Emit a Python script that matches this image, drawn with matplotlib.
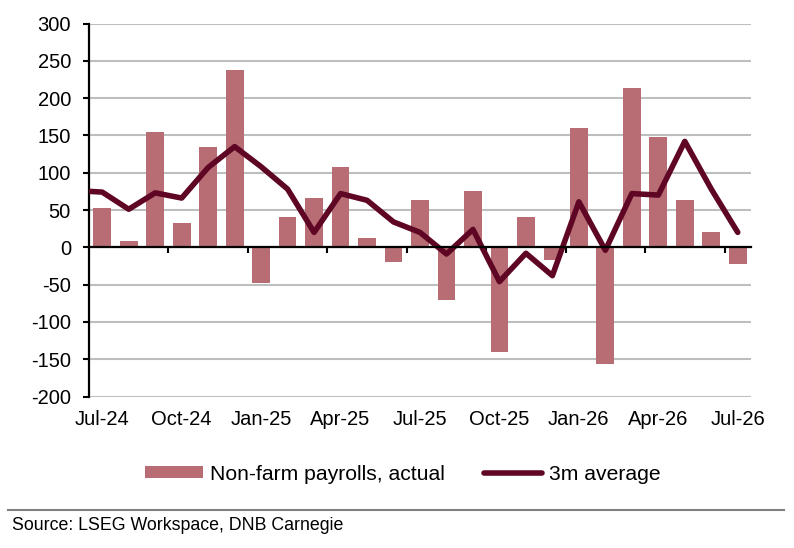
import numpy as np
import matplotlib
matplotlib.use('Agg')
import matplotlib.pyplot as plt
from matplotlib.lines import Line2D

plt.rcParams['font.family'] = ['Liberation Sans', 'DejaVu Sans']
plt.rcParams['axes.unicode_minus'] = False

# monthly data, Jul-24 .. Jul-26
payrolls = [53, 9, 155, 33, 134, 237, -48, 41, 66, 107, 13, -20, 63,
            -70, 76, -140, 40, -17, 160, -157, 214, 148, 63, 20, -23]
# 3m average, starts one month earlier (Jun-24) so the line runs to the left edge
avg3m = [76, 74, 51, 73, 66, 107, 135, 108, 78, 20, 72, 63, 34, 20,
         -9, 24, -46, -8, -38, 61, -4, 72, 70, 142, 78, 20]
tick_labels = ['Jul-24', 'Oct-24', 'Jan-25', 'Apr-25', 'Jul-25',
               'Oct-25', 'Jan-26', 'Apr-26', 'Jul-26']
yticks = [-200, -150, -100, -50, 0, 50, 100, 150, 200, 250, 300]

bar_col = '#B86D75'
line_col = '#5E0624'

x = np.arange(len(payrolls))
x_line = np.arange(len(avg3m)) - 1

fig = plt.figure(figsize=(7.94, 5.48), dpi=100)
ax = fig.add_axes([89/794, 1-396.5/548, (751-89)/794, (396.5-23.5)/548])

bars = ax.bar(x, payrolls, width=0.67, color=bar_col, zorder=2,
              label='Non-farm payrolls, actual')
line, = ax.plot(x_line, avg3m, color=line_col, lw=4, solid_joinstyle='round',
                solid_capstyle='round', zorder=3, label='3m average')

ax.set_xlim(-0.5, len(payrolls)-0.5)
ax.set_ylim(-200, 300)
ax.set_yticks(yticks)
ax.yaxis.grid(True, color='#BEBEBE', lw=1.5, zorder=0)
ax.set_axisbelow(True)

for s in ['top', 'right']:
    ax.spines[s].set_visible(False)
ax.spines['left'].set_linewidth(1.6)
ax.spines['bottom'].set_position(('data', 0))
ax.spines['bottom'].set_linewidth(1.6)
ax.spines['bottom'].set_zorder(4)

# boundary ticks every 3 months on the zero line
ax.set_xticks(np.arange(2.5, len(payrolls)-1, 3))
ax.tick_params(axis='x', direction='out', length=4, width=1.5,
               labelbottom=False)
ax.tick_params(axis='y', direction='out', length=4.5, width=1.5,
               pad=8.5, labelsize=14.5)

secax = ax.secondary_xaxis('bottom')
secax.set_xticks(x[::3], tick_labels)
secax.tick_params(length=0, pad=10, labelsize=14.5)
secax.spines['bottom'].set_visible(False)

fig.legend(handles=[bars, line], loc='center left',
           bbox_to_anchor=(145/794, 1-474/548),
           ncol=2, frameon=False, fontsize=15.2, borderpad=0,
           borderaxespad=0, handlelength=2.75, handleheight=0.5,
           handletextpad=0.32, columnspacing=1.85)

fig.add_artist(Line2D([8/794, 784/794], [1-510/548, 1-510/548],
                      color='#808080', lw=1.5))
fig.text(12/794, 1-525/548, 'Source: LSEG Workspace, DNB Carnegie',
         fontsize=12.8, va='center', ha='left')

fig.savefig('out.png', dpi=100)
